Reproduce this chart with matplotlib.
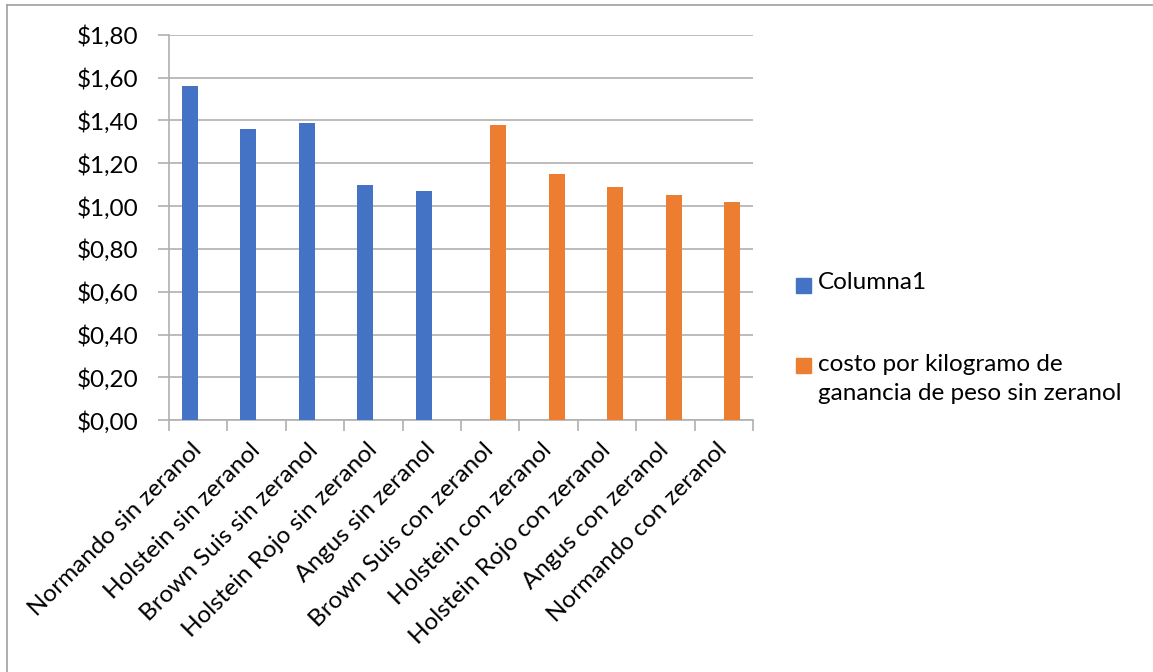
import numpy as np
import matplotlib
matplotlib.use("Agg")
import matplotlib.pyplot as plt
from matplotlib.lines import Line2D
from matplotlib.patches import Rectangle
from matplotlib.ticker import FuncFormatter, FixedLocator

categories = ["Normando sin zeranol", "Holstein sin zeranol", "Brown Suis sin zeranol",
              "Holstein Rojo sin zeranol", "Angus sin zeranol", "Brown Suis con zeranol",
              "Holstein con zeranol", "Holstein Rojo con zeranol", "Angus con zeranol",
              "Normando con zeranol"]
series1_name = "Columna1"
series1 = [1.56, 1.36, 1.39, 1.10, 1.07, np.nan, np.nan, np.nan, np.nan, np.nan]
series2_name = "costo por kilogramo de\nganancia de peso sin zeranol"
series2 = [np.nan, np.nan, np.nan, np.nan, np.nan, 1.38, 1.15, 1.09, 1.05, 1.02]
yticks = [0.0, 0.2, 0.4, 0.6, 0.8, 1.0, 1.2, 1.4, 1.6, 1.8]

plt.rcParams['font.family'] = ['Lato', 'DejaVu Sans']
W, H = 1153, 672
fig = plt.figure(figsize=(W / 100, H / 100), dpi=100)
ax = fig.add_axes([169 / W, 1 - 420.3 / H, (753 - 169) / W, (420.3 - 34.7) / H])

x = np.arange(len(categories))
bw = 0.275
c1, c2 = "#4472C4", "#ED7D31"
ax.bar(x - 0.14, series1, width=bw, color=c1, label=series1_name, zorder=3)
ax.bar(x + 0.14, series2, width=bw, color=c2, label=series2_name, zorder=3)

ax.set_xlim(-0.5, len(categories) - 0.5)
ax.set_ylim(0, 1.8)
ax.set_yticks(yticks)
ax.yaxis.set_major_formatter(FuncFormatter(lambda v, p: ("$%.2f" % v).replace(".", ",")))
ax.yaxis.grid(True, color="#b0b0b0", linewidth=1.2, zorder=0)
ax.set_axisbelow(True)

ax.xaxis.set_major_locator(FixedLocator(np.arange(-0.5, len(categories), 1.0)))
ax.xaxis.set_major_formatter(FuncFormatter(lambda v, p: ""))
ax.xaxis.set_minor_locator(FixedLocator(x))
ax.set_xticklabels(categories, minor=True, rotation=45, ha="right", va="center",
                   rotation_mode="anchor", fontsize=17.5)
ax.tick_params(axis="x", which="minor", length=0, pad=19)
ax.tick_params(axis="x", which="major", length=8, color="#b0b0b0", width=1.2)
ax.tick_params(axis="y", length=8, color="#b0b0b0", width=1.2, labelsize=17.5, pad=14)

for s in ["top", "right"]:
    ax.spines[s].set_visible(False)
for s in ["left", "bottom"]:
    ax.spines[s].set_color("#b0b0b0")
    ax.spines[s].set_linewidth(1.2)

# legend (Excel-style: marker aligned with first line of each entry)
def fx(px):
    return px / W

def fy(py):
    return 1 - py / H

sq = 15
for (name, col, cy, ty) in [(series1_name, c1, 285, 272), (series2_name, c2, 365, 354)]:
    fig.add_artist(Rectangle((fx(796), fy(cy + sq / 2)), sq / W, sq / H, color=col,
                             transform=fig.transFigure))
    fig.text(fx(818), fy(ty), name, fontsize=17.5, va="top", ha="left",
             linespacing=1.5)

# outer chart border (top and left only visible)
fig.add_artist(Line2D([7 / W, 1.0], [1 - 5 / H, 1 - 5 / H], color="#a0a0a0", lw=1.2,
                      transform=fig.transFigure))
fig.add_artist(Line2D([7 / W, 7 / W], [1 - 5 / H, 0], color="#a0a0a0", lw=1.2,
                      transform=fig.transFigure))

fig.savefig("out.png", dpi=100)
